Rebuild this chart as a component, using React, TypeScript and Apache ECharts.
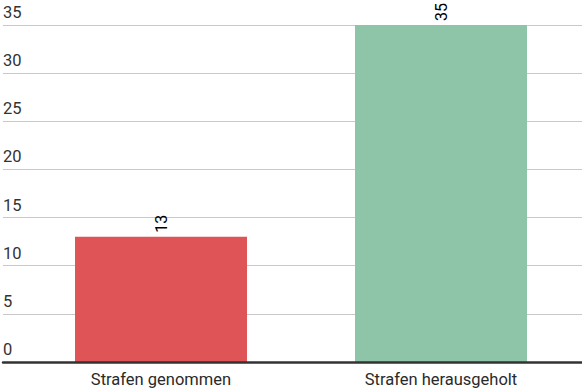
import React, { useEffect, useRef } from "react";
import * as echarts from "echarts";

const categories = ["Strafen genommen", "Strafen herausgeholt"];
const values = [13, 35];
const colors = ["#df5457", "#8ec4a8"];
const yMin = 0;
const yMax = 35;
const yStep = 5;

export default function App() {
  const ref = useRef<HTMLDivElement>(null);
  useEffect(() => {
    if (!ref.current) return;
    const chart = echarts.init(ref.current, null, { renderer: "svg" });
    const font = "Roboto, 'Noto Sans', sans-serif";
    chart.setOption({
      animation: false,
      textStyle: { fontFamily: font },
      grid: [
        { left: 21, right: 1, top: 25, bottom: 26 },
        { left: 3, right: 0, top: 25, bottom: 26 },
      ],
      xAxis: [
        {
          type: "category",
          gridIndex: 0,
          data: categories,
          axisLine: { show: false },
          axisTick: { show: false },
          axisLabel: { color: "#2a2a2a", fontSize: 16.5, margin: 9, fontFamily: font },
        },
        {
          type: "value",
          gridIndex: 1,
          min: 0,
          max: 1,
          axisLine: { show: true, onZero: false, lineStyle: { color: "#333", width: 2.5 } },
          axisTick: { show: false },
          axisLabel: { show: false },
          splitLine: { show: false },
          z: 5,
        },
      ],
      yAxis: [
        {
          type: "value",
          gridIndex: 0,
          min: yMin,
          max: yMax,
          interval: yStep,
          show: false,
        },
        {
          type: "value",
          gridIndex: 1,
          min: yMin,
          max: yMax,
          interval: yStep,
          axisLine: { show: false },
          axisTick: { show: false },
          splitLine: { show: true, lineStyle: { color: "#c8c8c8", width: 1 } },
          axisLabel: {
            inside: true,
            margin: 0,
            align: "left",
            verticalAlign: "bottom",
            padding: [0, 0, 4, 0],
            color: "#333",
            fontSize: 16.5,
            fontFamily: font,
          },
        },
      ],
      series: [
        {
          type: "bar",
          xAxisIndex: 0,
          yAxisIndex: 0,
          barWidth: 172,
          z: 3,
          data: values.map((v, i) => ({ value: v, itemStyle: { color: colors[i] } })),
          label: {
            show: true,
            position: "top",
            rotate: 90,
            align: "left",
            verticalAlign: "middle",
            distance: 4,
            color: "#000",
            fontSize: 16,
            fontFamily: font,
          },
        },
      ],
    });
    return () => chart.dispose();
  }, []);
  return <div ref={ref} style={{ width: 582, height: 388, position: "absolute", left: 0, top: 0 }} />;
}
